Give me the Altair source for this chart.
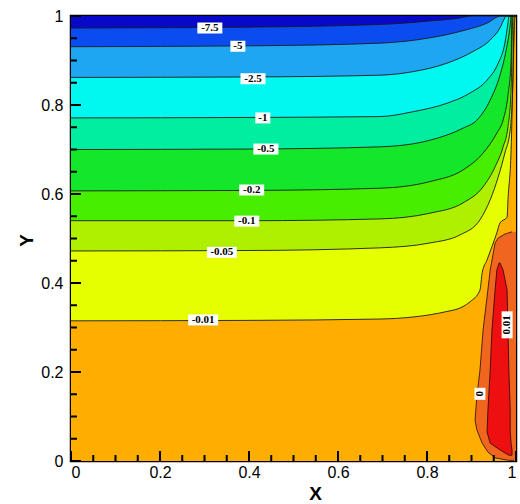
import altair as alt
import pandas as pd

# ---------------- data ----------------
levels = ["-7.5", "-5", "-2.5", "-1", "-0.5", "-0.2", "-0.1", "-0.05", "-0.01"]
# colour of the band above the first level, then of the band below each level
band_colors = ["#0808c8", "#0a4cf0", "#1ea6f2", "#00f8f0", "#00eea0",
               "#14e62a", "#48ee00", "#aef000", "#e6ff00", "#ffae00"]

curve_x = {
    "-7.5": [0, 0.402, 0.717, 0.807, 0.863, 0.903],
    "-5": [0, 0.402, 0.694, 0.807, 0.881, 0.935, 0.966],
    "-2.5": [0, 0.402, 0.694, 0.769, 0.845, 0.903, 0.942, 0.964, 0.975, 0.978],
    "-1": [0, 0.402, 0.694, 0.769, 0.845, 0.897, 0.935, 0.960, 0.975, 0.982, 0.984],
    "-0.5": [0, 0.402, 0.694, 0.807, 0.881, 0.912, 0.942, 0.964, 0.978, 0.987, 0.989],
    "-0.2": [0, 0.402, 0.694, 0.807, 0.881, 0.926, 0.957, 0.971, 0.982, 0.989, 0.991],
    "-0.1": [0, 0.402, 0.694, 0.807, 0.881, 0.926, 0.953, 0.971, 0.982, 0.989, 0.993],
    "-0.05": [0, 0.402, 0.694, 0.807, 0.874, 0.919, 0.942, 0.960, 0.975, 0.987, 0.993, 0.996],
    "-0.01": [0, 0.402, 0.694, 0.845, 0.881, 0.897, 0.919, 0.924, 0.935, 0.946, 0.957,
              0.964, 0.980, 0.982, 0.989, 0.993, 0.998],
}
curve_y = {
    "-7.5": [0.973, 0.975, 0.982, 0.989, 0.994, 1.0],
    "-5": [0.931, 0.933, 0.939, 0.951, 0.967, 0.984, 1.0],
    "-2.5": [0.862, 0.863, 0.867, 0.875, 0.894, 0.920, 0.946, 0.973, 0.996, 1.0],
    "-1": [0.771, 0.772, 0.774, 0.785, 0.804, 0.827, 0.856, 0.894, 0.939, 0.985, 1.0],
    "-0.5": [0.700, 0.701, 0.706, 0.721, 0.748, 0.766, 0.811, 0.867, 0.924, 0.980, 1.0],
    "-0.2": [0.607, 0.608, 0.613, 0.628, 0.654, 0.692, 0.737, 0.766, 0.822, 0.900, 1.0],
    "-0.1": [0.540, 0.540, 0.544, 0.557, 0.580, 0.616, 0.661, 0.706, 0.751, 0.834, 1.0],
    "-0.05": [0.472, 0.473, 0.479, 0.490, 0.508, 0.542, 0.587, 0.638, 0.692, 0.744, 0.856, 1.0],
    "-0.01": [0.315, 0.316, 0.319, 0.336, 0.347, 0.358, 0.384, 0.423, 0.452, 0.482, 0.513,
              0.535, 0.548, 0.587, 0.699, 0.856, 1.0],
}

# closed region of positive values near the right wall (0 contour)
zero_x = [0.991, 0.975, 0.960, 0.953, 0.942, 0.935, 0.926, 0.919, 0.912, 0.908,
          0.912, 0.924, 0.937, 0.953, 0.980, 0.996]
zero_y = [0.515, 0.510, 0.501, 0.490, 0.429, 0.369, 0.294, 0.204, 0.144, 0.092,
          0.070, 0.040, 0.020, 0.007, 0.002, 0.001]
zero_color = "#f0661e"

# 0.01 contour region
red_y = [0.445, 0.429, 0.384, 0.294, 0.204, 0.115, 0.065, 0.040, 0.025, 0.013]
red_xl = [0.962, 0.957, 0.953, 0.946, 0.942, 0.937, 0.935, 0.942, 0.964, 0.984]
red_xr = [0.964, 0.971, 0.980, 0.982, 0.984, 0.987, 0.987, 0.989, 0.991, 0.991]
red_color = "#ee1010"

# contour labels
label_text = ["-7.5", "-5", "-2.5", "-1", "-0.5", "-0.2", "-0.1", "-0.05", "-0.01", "0.01", "0"]
label_x = [0.312, 0.375, 0.409, 0.431, 0.438, 0.406, 0.395, 0.339, 0.297, 0.980, 0.919]
label_y = [0.973, 0.932, 0.859, 0.771, 0.701, 0.609, 0.539, 0.469, 0.317, 0.306, 0.151]
label_angle = [0, 0, 0, 0, 0, 0, 0, 0, 0, 270, 270]

tick_major = [0, 0.2, 0.4, 0.6, 0.8, 1.0]
tick_minor = [0.05, 0.1, 0.15, 0.25, 0.3, 0.35, 0.45, 0.5, 0.55, 0.65, 0.7, 0.75,
              0.85, 0.9, 0.95]

# ---------------- chart ----------------
W, H = 445, 445
FONT = "Liberation Sans"

x_axis = alt.Axis(values=tick_major, format="~g", ticks=False, domain=False, grid=False,
                  labelPadding=3, labelFontSize=16, labelFont=FONT, labelColor="black",
                  title="X", titleFont=FONT, titleFontSize=19, titleFontWeight="bold",
                  titleColor="black", titleX=244, titleY=32, titleBaseline="middle")
y_axis = alt.Axis(values=tick_major, format="~g", ticks=False, domain=False, grid=False,
                  labelPadding=8, labelFontSize=16, labelFont=FONT, labelColor="black",
                  title="Y", titleFont=FONT, titleFontSize=19, titleFontWeight="bold",
                  titleColor="black", titleX=-45, titleY=224, titleBaseline="middle",
                  titleAlign="center")
sx = alt.Scale(domain=[0, 1], nice=False, zero=False)
sy = alt.Scale(domain=[0, 1], nice=False, zero=False)


def X(f):
    return alt.X(f"{f}:Q", scale=sx, axis=x_axis, stack=None)


def Y(f):
    return alt.Y(f"{f}:Q", scale=sy, axis=y_axis, stack=None)


layers = []

# background: band above the first level
bg = pd.DataFrame({"x": [0.0], "x2": [1.0], "y": [0.0], "y2": [1.0]})
layers.append(alt.Chart(bg).mark_rect(color=band_colors[0]).encode(
    x=X("x"), x2="x2:Q", y=Y("y"), y2="y2:Q"))

# filled bands: area under each contour painted with the colour of the band below it
line_rows = []
for i, lv in enumerate(levels):
    xs = list(curve_x[lv])
    ys = list(curve_y[lv])
    if xs[-1] < 1.0:
        xs = xs + [1.0]
        ys = ys + [1.0]
    for k, (a, b) in enumerate(zip(xs, ys)):
        line_rows.append({"level": lv, "i": k, "x": a, "y": b})
    d = pd.DataFrame({"x": xs, "y": ys, "y0": [0.0] * len(xs)})
    layers.append(alt.Chart(d).mark_area(color=band_colors[i + 1], interpolate="monotone",
                                         opacity=1).encode(
        x=X("x"), y=Y("y"), y2="y0:Q"))

# zero region
zd = pd.DataFrame({"xl": zero_x, "xr": [1.0] * len(zero_x), "y": zero_y})
layers.append(alt.Chart(zd).mark_area(color=zero_color, orient="horizontal", opacity=1).encode(
    y=Y("y"), x=X("xl"), x2="xr:Q"))

# 0.01 region
rd = pd.DataFrame({"xl": red_xl, "xr": red_xr, "y": red_y})
layers.append(alt.Chart(rd).mark_area(color=red_color, orient="horizontal", opacity=1).encode(
    y=Y("y"), x=X("xl"), x2="xr:Q"))

# contour lines
ld = pd.DataFrame(line_rows)
layers.append(alt.Chart(ld).mark_line(color="#1a1a1a", strokeWidth=0.9,
                                      interpolate="monotone").encode(
    x=X("x"), y=Y("y"), detail="level:N", order="i:Q"))

zl = pd.DataFrame({"x": zero_x, "y": zero_y, "i": list(range(len(zero_x)))})
layers.append(alt.Chart(zl).mark_line(color="#3a1a0a", strokeWidth=0.9).encode(
    x=X("x"), y=Y("y"), order="i:Q"))

rl_x = red_xl + red_xr[::-1] + [red_xl[0]]
rl_y = red_y + red_y[::-1] + [red_y[0]]
rl = pd.DataFrame({"x": rl_x, "y": rl_y, "i": list(range(len(rl_x)))})
layers.append(alt.Chart(rl).mark_line(color="#3a0a0a", strokeWidth=0.9).encode(
    x=X("x"), y=Y("y"), order="i:Q"))

# label boxes + texts
rows = []
for t, a, b, ang in zip(label_text, label_x, label_y, label_angle):
    wpx = 5 * len(t) + 5
    hpx = 11
    if ang:
        wpx, hpx = hpx, wpx + 2
    rows.append({"t": t, "x": a, "y": b, "ang": ang,
                 "bx": a - wpx / 2 / W, "bx2": a + wpx / 2 / W,
                 "by": b - hpx / 2 / H, "by2": b + hpx / 2 / H})
lab = pd.DataFrame(rows)
layers.append(alt.Chart(lab).mark_rect(color="white").encode(
    x=X("bx"), x2="bx2:Q", y=Y("by"), y2="by2:Q"))
layers.append(alt.Chart(lab).mark_text(font="Liberation Serif", fontWeight="bold",
                                       fontSize=11, color="black", baseline="middle",
                                       align="center").encode(
    x=X("x"), y=Y("y"), text="t:N", angle=alt.Angle("ang:Q", scale=None)))

# inward ticks
tmaj = pd.DataFrame({"v": tick_major})
tmin = pd.DataFrame({"v": tick_minor})
for dfv, ln in ((tmaj, 10), (tmin, 6)):
    layers.append(alt.Chart(dfv).mark_rule(color="black", strokeWidth=2).encode(
        x=X("v"), y=alt.value(H), y2=alt.value(H - ln)))
    layers.append(alt.Chart(dfv).mark_rule(color="black", strokeWidth=2).encode(
        y=Y("v"), x=alt.value(0), x2=alt.value(ln)))

chart = alt.layer(*layers).properties(
    width=W, height=H,
    autosize=alt.AutoSizeParams(type="none"),
    padding={"left": 71, "top": 16, "right": 4, "bottom": 43},
    background="white",
).configure_view(stroke="black", strokeWidth=2.5)

chart.save("out.html", embed_options={"renderer": "svg", "actions": False})
